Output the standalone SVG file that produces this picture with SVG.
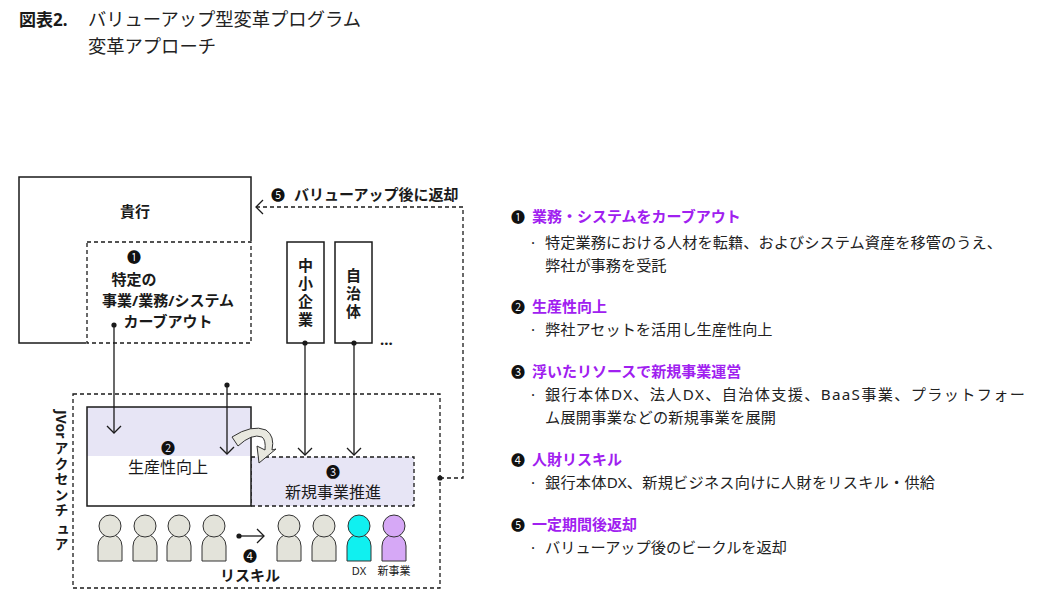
<svg xmlns="http://www.w3.org/2000/svg" width="1056" height="610" viewBox="0 0 1056 610">
<defs>
<style>
text{font-family:"Noto Sans","Noto Sans CJK JP",sans-serif;fill:#1a1a1a}
.t15b{font-size:15px;font-weight:bold}
.t16{font-size:16px}
.ctr{text-anchor:middle}
.box{fill:#fff;stroke:#1a1a1a;stroke-width:1.5}
.dash{stroke:#1a1a1a;stroke-width:1.3;stroke-dasharray:4 3}
.ln{stroke:#1a1a1a;stroke-width:1.3;fill:none}
.hd{font-size:15px;font-weight:bold;fill:#a020f0}
.num{font-size:14px;fill:#111}
.bl{font-size:15.2px;fill:#222}
.body{fill:#e3e3da;stroke:#333;stroke-width:1}
.lav{fill:#e7e5f5}
</style>
<marker id="arr" viewBox="-8 -8 10 16" markerWidth="10" markerHeight="16" refX="0" refY="0" orient="auto" markerUnits="userSpaceOnUse">
<path d="M-7,-7 L0,0 L-7,7" fill="none" stroke="#1a1a1a" stroke-width="1.3"/>
</marker>
<g id="person"><path class="body" d="M-12,561 V546 A12,12 0 0 1 12,546 V561 Z"/></g>
</defs>
<rect width="1056" height="610" fill="#fff"/>

<g id="title">
<text x="19" y="26" style="font-size:17px;font-weight:bold">図表2.</text>
<text x="88" y="26" style="font-size:18.3px;fill:#222">バリューアップ型変革プログラム</text>
<text x="88" y="53" style="font-size:18.3px;fill:#222">変革アプローチ</text>
</g>

<g id="bank">
<rect class="box" x="19" y="177" width="232" height="166"/>
<text class="t15b ctr" x="135" y="217">貴行</text>
</g>
<g id="carveout">
<rect x="87" y="242" width="164" height="101" fill="#fff" stroke="#fff" stroke-width="2"/>
<rect x="87" y="242" width="164" height="101" fill="none" class="dash"/>
<text class="num ctr" x="134" y="262">❶</text>
<text class="t15b ctr" x="134" y="285">特定の</text>
<text class="t15b ctr" x="168" y="306">事業/業務/システム</text>
<text class="t15b ctr" x="168" y="327">カーブアウト</text>
</g>
<g id="sme">
<rect class="box" x="287" y="242" width="37" height="101"/>
<text class="t15b ctr" x="305.5" y="271">中<tspan x="305.5" dy="18">小</tspan><tspan x="305.5" dy="18">企</tspan><tspan x="305.5" dy="18">業</tspan></text>
</g>
<g id="municipality">
<rect class="box" x="335" y="242" width="37" height="101"/>
<text class="t15b ctr" x="353.5" y="281">自<tspan x="353.5" dy="18">治</tspan><tspan x="353.5" dy="18">体</tspan></text>
<text class="t15b" x="380" y="345">...</text>
</g>

<g id="jv">
<rect x="73" y="394" width="367" height="194" fill="none" class="dash"/>
<text x="61" y="410" style="font-size:14px;writing-mode:tb;font-weight:bold">JVor<tspan dy="3" style="letter-spacing:1.5px">アクセンチ</tspan><tspan dy="4">ュア</tspan></text>
</g>
<g id="newbiz">
<rect class="lav" x="251" y="457" width="163" height="49"/>
<rect x="251" y="457" width="163" height="49" fill="none" class="dash"/>
<text class="num ctr" x="333" y="477">❸</text>
<text class="t16 ctr" x="333" y="498">新規事業推進</text>
</g>
<g id="productivity">
<rect x="87" y="407" width="164" height="99" fill="#fff"/>
<rect class="lav" x="87" y="407" width="164" height="49"/>
<rect x="87" y="407" width="164" height="99" fill="none" stroke="#1a1a1a" stroke-width="1.5"/>
<text class="num ctr" x="168" y="453">❷</text>
<text class="t16 ctr" x="168" y="473">生産性向上</text>
</g>

<g id="people">
<use href="#person" x="110"/><circle class="body" cx="110" cy="526" r="11"/>
<use href="#person" x="145"/><circle class="body" cx="145" cy="526" r="11"/>
<use href="#person" x="179"/><circle class="body" cx="179" cy="526" r="11"/>
<use href="#person" x="214"/><circle class="body" cx="214" cy="526" r="11"/>
<use href="#person" x="289"/><circle class="body" cx="289" cy="526" r="11"/>
<use href="#person" x="324"/><circle class="body" cx="324" cy="526" r="11"/>
<path d="M347,561 V546 A12,12 0 0 1 371,546 V561 Z" fill="#10f0f0" stroke="#333"/><circle cx="359" cy="526" r="11" fill="#10f0f0" stroke="#333"/>
<path d="M382,561 V546 A12,12 0 0 1 406,546 V561 Z" fill="#d6a8f6" stroke="#333"/><circle cx="394" cy="526" r="11" fill="#d6a8f6" stroke="#333"/>
<text class="ctr" x="359" y="575" style="font-size:11px">DX</text>
<text class="ctr" x="394" y="575" style="font-size:11px">新事業</text>
</g>
<g id="reskill">
<text class="num ctr" x="250" y="561">❹</text>
<text class="t15b ctr" x="250" y="581">リスキル</text>
</g>

<g id="connectors">
<line class="ln" x1="114" y1="325" x2="114" y2="433" marker-end="url(#arr)"/>
<circle cx="114" cy="325" r="2.6" fill="#1a1a1a"/>
<line class="ln" x1="227" y1="385" x2="227" y2="454" marker-end="url(#arr)"/>
<circle cx="227" cy="385" r="2.6" fill="#1a1a1a"/>
<line class="ln" x1="305" y1="343" x2="305" y2="455" marker-end="url(#arr)"/>
<circle cx="305" cy="343" r="2.6" fill="#1a1a1a"/>
<line class="ln" x1="354" y1="343" x2="354" y2="455" marker-end="url(#arr)"/>
<circle cx="354" cy="343" r="2.6" fill="#1a1a1a"/>
<polyline class="ln" style="stroke-dasharray:4 3" points="440,478 463,478 463,207 256,207" marker-end="url(#arr)"/>
<circle cx="440" cy="478" r="2.6" fill="#1a1a1a"/>
<line class="ln" x1="239" y1="536" x2="264" y2="536" marker-end="url(#arr)"/>
<circle cx="239" cy="536" r="2.6" fill="#1a1a1a"/>
<path d="M232,437 Q252,424 266,430 Q275,436 272,450 L276,449 L259,463 L257,446 L265,450 Q266,440 262,437 Q252,433 238,446 Z" fill="#e8e8df" stroke="#333" stroke-width="1"/>
</g>
<g id="return-label">
<text class="num" x="271" y="200">❺</text>
<text class="t15b" x="294" y="200">バリューアップ後に返却</text>
</g>

<g id="legend">
<text class="num" x="511" y="222">❶</text><text class="hd" x="532" y="222">業務・システムをカーブアウト</text>
<text class="bl" x="531" y="248">·</text><text class="bl" x="545" y="248" textLength="457" lengthAdjust="spacing">特定業務における人材を転籍、およびシステム資産を移管のうえ、</text>
<text class="bl" x="545" y="271">弊社が事務を受託</text>
<text class="num" x="511" y="312">❷</text><text class="hd" x="532" y="312">生産性向上</text>
<text class="bl" x="531" y="335">·</text><text class="bl" x="545" y="335">弊社アセットを活用し生産性向上</text>
<text class="num" x="511" y="377">❸</text><text class="hd" x="532" y="377">浮いたリソースで新規事業運営</text>
<text class="bl" x="531" y="400">·</text><text class="bl" x="545" y="400" textLength="480" lengthAdjust="spacing">銀行本体DX、法人DX、自治体支援、BaaS事業、プラットフォー</text>
<text class="bl" x="545" y="423" textLength="231" lengthAdjust="spacing">ム展開事業などの新規事業を展開</text>
<text class="num" x="511" y="465">❹</text><text class="hd" x="532" y="465">人財リスキル</text>
<text class="bl" x="531" y="488">·</text><text class="bl" x="545" y="488" textLength="390" lengthAdjust="spacing">銀行本体DX、新規ビジネス向けに人財をリスキル・供給</text>
<text class="num" x="511" y="530">❺</text><text class="hd" x="532" y="530">一定期間後返却</text>
<text class="bl" x="531" y="553">·</text><text class="bl" x="545" y="553">バリューアップ後のビークルを返却</text>
</g>
</svg>
